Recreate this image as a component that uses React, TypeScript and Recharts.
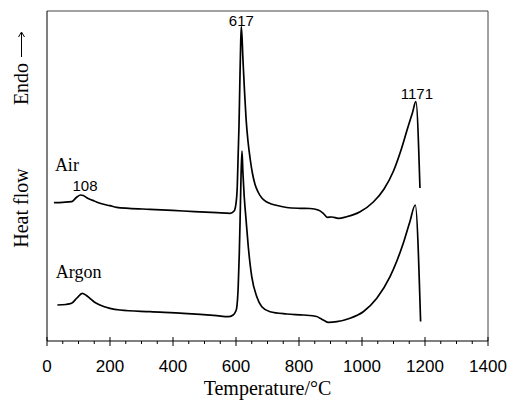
import React from 'react';
import { LineChart, Line, XAxis, YAxis, ReferenceLine, ReferenceDot } from 'recharts';

const airT = [22, 50, 78, 95, 106, 115, 125, 136, 150, 168, 200, 221, 260, 327, 433, 539, 581, 594, 600, 604, 607, 609.5, 612, 615, 617, 622, 627, 632, 638, 645, 652, 660, 670, 682, 695, 710, 724, 761, 803, 835, 861, 877, 890, 904, 925, 951, 994, 1036, 1070, 1100, 1125, 1145, 1160, 1171, 1184];
const airV = [138.3, 138.7, 139.3, 144, 146, 145.5, 143.5, 141.7, 140, 137.7, 135.3, 133.7, 132.7, 131.7, 130, 128.3, 127.7, 130, 137.7, 154.3, 188, 215, 255, 300, 314.3, 282, 250, 222, 200, 182, 168, 157, 149, 143, 139.5, 137.3, 136, 133.5, 132.7, 132.5, 131, 127.7, 123.7, 124, 122.7, 124.3, 129.3, 139, 152, 170, 192, 213, 228, 239.3, 153];

const argonT = [33, 60, 78, 95, 112, 125, 136, 150, 168, 200, 232, 327, 433, 539, 575, 591, 598, 602, 607, 610.5, 613, 616, 619, 622, 626, 632, 639, 650, 666, 682, 708, 761, 814, 856, 867, 880, 893, 920, 962, 1004, 1047, 1089, 1131, 1152, 1169, 1186];
const argonV = [36, 36.5, 37.7, 43, 47.7, 45.5, 42.7, 39, 36, 32.7, 31, 29.3, 27.7, 25.3, 24.3, 26, 29, 32.7, 54.3, 88, 121, 165, 190, 168, 145, 121, 94.3, 64.3, 44.3, 34.3, 29.3, 27, 26, 24.5, 22.7, 20.5, 18.7, 19.3, 22.7, 29.3, 42.7, 64.3, 97.7, 119.3, 136, 19.5];

const xTicks = [0, 50, 100, 150, 200, 250, 300, 350, 400, 450, 500, 550, 600, 650, 700, 750, 800, 850, 900, 950, 1000, 1050, 1100, 1150, 1200, 1250, 1300, 1350, 1400];
const xTickLabels = ['0', '200', '400', '600', '800', '1000', '1200', '1400'];

const peakT = [108, 617, 1171];
const peakV = [146, 314.3, 239.3];
const peakLabels = ['108', '617', '1171'];

const seriesNames = ['Air', 'Argon'];
const seriesLabelT = [25, 28];
const seriesLabelV = [170, 63];

const airData = airT.map((t, i) => ({ t, v: airV[i] }));
const argonData = argonT.map((t, i) => ({ t, v: argonV[i] }));

const SANS = 'Liberation Sans, Arial, sans-serif';
const SERIF = 'Liberation Serif, Times New Roman, serif';

const XTick = (props: any) => {
  const { x, y, payload } = props;
  const val = payload.value;
  const label = String(val);
  const major = xTickLabels.includes(label);
  return (
    <g>
      {major ? (
        <line x1={x} x2={x} y1={y - 4} y2={y + 5} stroke="#000" strokeWidth={1} />
      ) : (
        <line x1={x} x2={x} y1={y} y2={y + 3} stroke="#000" strokeWidth={1} />
      )}
      {major && (
        <text x={x} y={y + 31} textAnchor="middle" fontFamily={SANS} fontSize={17} fill="#000">
          {label}
        </text>
      )}
    </g>
  );
};

const makeLabel = (text: string, dx: number, dy: number, family: string, size: number, anchor: string) => (props: any) => {
  const vb = props.viewBox || {};
  const x = (vb.x || 0) + (vb.width || 0) / 2;
  const y = (vb.y || 0) + (vb.height || 0) / 2;
  return (
    <text x={x + dx} y={y + dy} textAnchor={anchor} fontFamily={family} fontSize={size} fill="#000">
      {text}
    </text>
  );
};

const peakOffsets = [
  [4, -4],
  [0, -1],
  [1, -3],
];

const YTitle = () => (
  <g>
    <text
      transform="translate(28,208) rotate(-90)"
      textAnchor="middle"
      fontFamily={SERIF}
      fontSize={20}
      fill="#000"
    >
      Heat flow
    </text>
    <text
      transform="translate(28,84) rotate(-90)"
      textAnchor="middle"
      fontFamily={SERIF}
      fontSize={20}
      fill="#000"
    >
      Endo
    </text>
    <line x1={21.5} x2={21.5} y1={57} y2={33} stroke="#000" strokeWidth={1} />
    <path d="M18.5,37 L21.5,32 L24.5,37" fill="none" stroke="#000" strokeWidth={1} />
  </g>
);

export default function App() {
  return (
    <div style={{ position: 'absolute', left: 0, top: 0, background: '#fff' }}>
      <LineChart width={510} height={404} margin={{ top: 11, right: 22, left: 0, bottom: 0 }}>
        <XAxis
          dataKey="t"
          type="number"
          domain={[0, 1400]}
          ticks={xTicks}
          interval={0}
          tickSize={0}
          tickMargin={0}
          tickLine={false}
          axisLine={{ stroke: '#000', strokeWidth: 1 }}
          tick={<XTick />}
          height={63}
          label={{
            value: 'Temperature/°C',
            position: 'insideBottom',
            offset: 9,
            fontFamily: SERIF,
            fontSize: 20,
            fill: '#000',
          }}
        />
        <YAxis
          type="number"
          domain={[0, 330]}
          tick={false}
          tickLine={false}
          axisLine={{ stroke: '#000', strokeWidth: 1 }}
          width={47}
          label={{ content: () => <YTitle /> }}
        />
        <ReferenceLine y={330} stroke="#444" strokeWidth={1} />
        <ReferenceLine x={1400} stroke="#444" strokeWidth={1} />
        <Line data={airData} dataKey="v" type="monotone" stroke="#000" strokeWidth={1.7} dot={false} isAnimationActive={false} />
        <Line data={argonData} dataKey="v" type="monotone" stroke="#000" strokeWidth={1.7} dot={false} isAnimationActive={false} />
        {peakT.map((t, i) => (
          <ReferenceDot
            key={'p' + i}
            x={t}
            y={peakV[i]}
            r={0}
            fill="none"
            stroke="none"
            label={{ content: makeLabel(peakLabels[i], peakOffsets[i][0], peakOffsets[i][1], SANS, 15, 'middle') }}
          />
        ))}
        {seriesNames.map((n, i) => (
          <ReferenceDot
            key={'s' + i}
            x={seriesLabelT[i]}
            y={seriesLabelV[i]}
            r={0}
            fill="none"
            stroke="none"
            label={{ content: makeLabel(n, 0, 0, SERIF, 18, 'start') }}
          />
        ))}
      </LineChart>
    </div>
  );
}
